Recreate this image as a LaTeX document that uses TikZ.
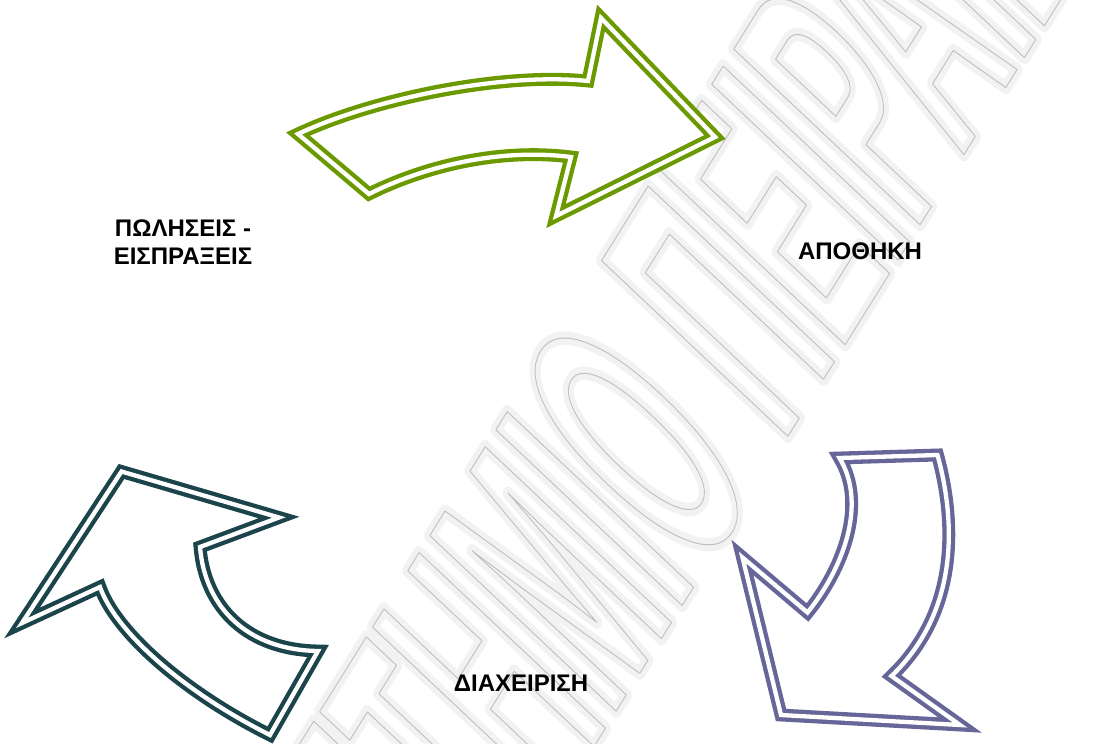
\documentclass[tikz,border=0pt]{standalone}
\usepackage{fontspec}
\setmainfont{Liberation Sans}
\newfontfamily\wmfont{Liberation Sans}[FakeStretch=0.41]
\newcommand\wmstroke[1]{\special{pdf:literal direct 1 Tr #1 w 1 j}}
\newcommand\wmend{\special{pdf:literal direct 0 Tr}}
\definecolor{arrgreen}{RGB}{107,153,0}
\definecolor{arrteal}{RGB}{27,69,74}
\definecolor{arrpurple}{RGB}{102,102,153}
\tikzset{
  arrowline/.style={line width=4.3pt, double=white, double distance=4.3pt, line join=miter, miter limit=20, fill=white},
  lbl/.style={font=\fontsize{24}{28}\selectfont\bfseries, inner sep=0pt, text=black},
  wmhalo/.style={font=\fontsize{365}{380}\selectfont\wmfont\bfseries, inner sep=0pt, text=black!5, transform shape},
  wmline/.style={font=\fontsize{365}{380}\selectfont\wmfont\bfseries, inner sep=0pt, text=black!25, transform shape},
}
\begin{document}
\begin{tikzpicture}[x=1pt,y=-1pt]
\useasboundingbox (0,0) rectangle (1103,744);
\fill[white] (0,0) rectangle (1103,744);
% watermark
\begin{scope}
\clip (0,0) rectangle (1103,744);
\begin{scope}[shift={(505,889)}, rotate=58, xslant=0.2]
  \node[wmhalo, anchor=base east] (wmh1) at (0,0) {\wmstroke{12}ΠΑΝΕΠΙΣ\wmend};
  \node[wmhalo, anchor=base west] (wmh2) at (0,0) {\wmstroke{12}ΤΗΜΙΟ ΠΕΙΡΑΙΩΣ\wmend};
  \node[wmline, anchor=base east] (wm1) at (0,0) {\wmstroke{0.9}ΠΑΝΕΠΙΣ\wmend};
  \node[wmline, anchor=base west] (wm2) at (0,0) {\wmstroke{0.9}ΤΗΜΙΟ ΠΕΙΡΑΙΩΣ\wmend};
\end{scope}
\end{scope}
% arrows
\draw[arrowline, draw=arrgreen] (298,134) .. controls (370,100) and (500,72) .. (588,81)
  -- (601,18) -- (715,137) -- (556,216) -- (571,157)
  .. controls (500,148) and (425,166) .. (369,194) -- cycle;
\draw[arrowline, draw=arrteal] (121.5,471.5) -- (279,517.5) -- (200,547)
  .. controls (205,608) and (248,650) .. (318,651) -- (270,735)
  .. controls (180,690) and (115,630) .. (100,587) -- (22,623) -- cycle;
\draw[arrowline, draw=arrpurple] (839.5,458) -- (937.5,455)
  .. controls (958,530) and (955,615) .. (891.5,676) -- (960,725) -- (781,715)
  -- (742.5,557.5) -- (807.5,612.5) .. controls (842,570) and (868,505) .. (839.5,458) -- cycle;
% labels
\node[lbl, align=center] (sales) at (183,242.5) {ΠΩΛΗΣΕΙΣ -\\ΕΙΣΠΡΑΞΕΙΣ};
\node[lbl] (store) at (860,251) {ΑΠΟΘΗΚΗ};
\node[lbl] (mgmt) at (521,683.5) {ΔΙΑΧΕΙΡΙΣΗ};
\end{tikzpicture}
\end{document}
